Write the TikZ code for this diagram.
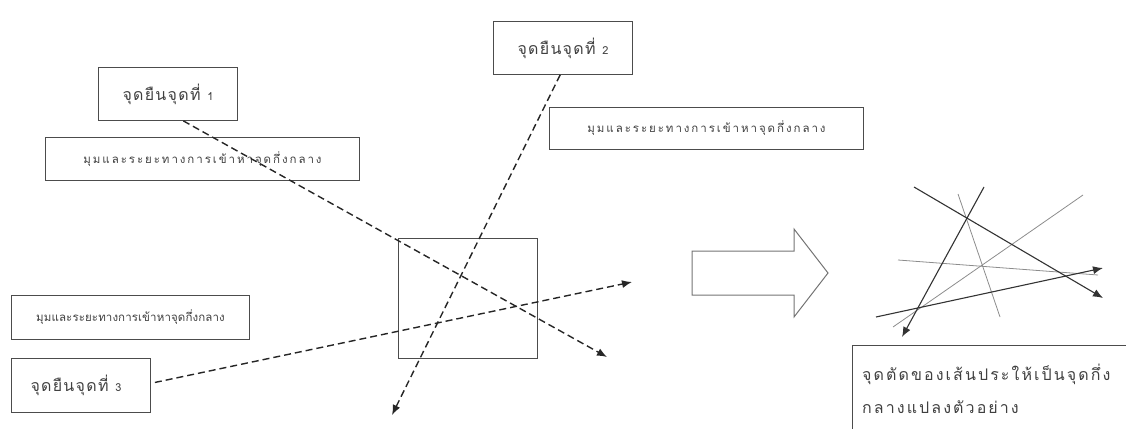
\documentclass[tikz,border=0pt]{standalone}
\usepackage{fontspec}
\newfontfamily\thaifont[Script=Thai]{Loma}
\newfontfamily\thaiwide[Script=Thai,LetterSpace=17]{Loma}
\newfontfamily\thaimid[Script=Thai,LetterSpace=8]{Loma}
\newfontfamily\thainarrow[Script=Thai,LetterSpace=1]{Loma}
\newfontfamily\thaires[Script=Thai,LetterSpace=13]{Loma}
\usetikzlibrary{arrows.meta,calc}
\begin{document}
\begin{tikzpicture}[x=1pt,y=-1pt,
  box/.style={draw=black!70,line width=0.9pt,inner sep=0pt,anchor=north west,font=\thaimid\fontsize{16}{18}\selectfont,text=black!75},
  smallbox/.style={box,font=\thaiwide\fontsize{11.5}{13}\selectfont},
  narrowbox/.style={box,font=\thainarrow\fontsize{11.5}{13}\selectfont},
  dashline/.style={draw=black!85,line width=1.4pt,dash pattern=on 7pt off 4pt,-{Latex[length=10pt,width=8pt]}},
  solidline/.style={draw=black!80,line width=1.1pt,-{Latex[length=10pt,width=8pt]}},
  grayline/.style={draw=black!45,line width=0.8pt}]
\useasboundingbox (0,0) rectangle (1126,428);
% boxes
\node[box,minimum width=139pt,minimum height=53pt] (s1) at (98,67) {จุดยืนจุดที่ {\fontsize{11}{12}\selectfont 1}};
\node[smallbox,minimum width=314pt,minimum height=43pt] (m1) at (45,137) {มุมและระยะทางการเข้าหาจุดกึ่งกลาง};
\node[box,minimum width=139pt,minimum height=53pt] (s2) at (493,21) {จุดยืนจุดที่ {\fontsize{11}{12}\selectfont 2}};
\node[smallbox,minimum width=314pt,minimum height=42pt] (m2) at (549,107) {มุมและระยะทางการเข้าหาจุดกึ่งกลาง};
\node[narrowbox,minimum width=238pt,minimum height=44pt] (m3) at (11,295) {มุมและระยะทางการเข้าหาจุดกึ่งกลาง};
\node[box,minimum width=139pt,minimum height=54pt] (s3) at (11,358) {จุดยืนจุดที่ {\fontsize{11}{12}\selectfont 3}\hspace*{10pt}};
\node[box,minimum width=139pt,minimum height=120pt] (ctr) at (398,238) {};
% dashed approach lines
\coordinate (e1) at (607,357);
\coordinate (e2) at (392,415);
\coordinate (e3) at (632,282);
\draw[dashline] ($(s1.south west)!0.61!(s1.south east)$) -- (e1);
\draw[dashline] ($(s2.south west)!0.48!(s2.south east)$) -- (e2);
\draw[dashline] ($(s3.east)+(4,-3)$) -- (e3);
% big arrow
\draw[black!55,line width=1pt,line join=miter] (692,251) -- (794,251) -- (794,229) -- (828,273) -- (794,317) -- (794,295) -- (692,295) -- cycle;
% example lines
\coordinate (a0) at (914,187); \coordinate (a1) at (1103,298);
\coordinate (b0) at (984,187); \coordinate (b1) at (902,337);
\coordinate (c0) at (876,317); \coordinate (c1) at (1103,268);
\coordinate (d0) at (958,194); \coordinate (d1) at (1000,317);
\coordinate (f0) at (898,260); \coordinate (f1) at (1098,275);
\coordinate (g0) at (893,327); \coordinate (g1) at (1083,195);
\draw[grayline] (d0) -- (d1);
\draw[grayline] (f0) -- (f1);
\draw[grayline] (g0) -- (g1);
\draw[solidline] (a0) -- (a1);
\draw[solidline] (b0) -- (b1);
\draw[solidline] (c0) -- (c1);
% result box
\node[box,minimum width=290pt,minimum height=100pt] (res) at (852,345) {};
\node[anchor=north west,align=left,inner sep=0pt,text=black!75,font=\thaires\fontsize{16}{33}\selectfont] (restext) at (862,364) {จุดตัดของเส้นประให้เป็นจุดกึ่ง\\กลางแปลงตัวอย่าง};
\end{tikzpicture}
\end{document}
